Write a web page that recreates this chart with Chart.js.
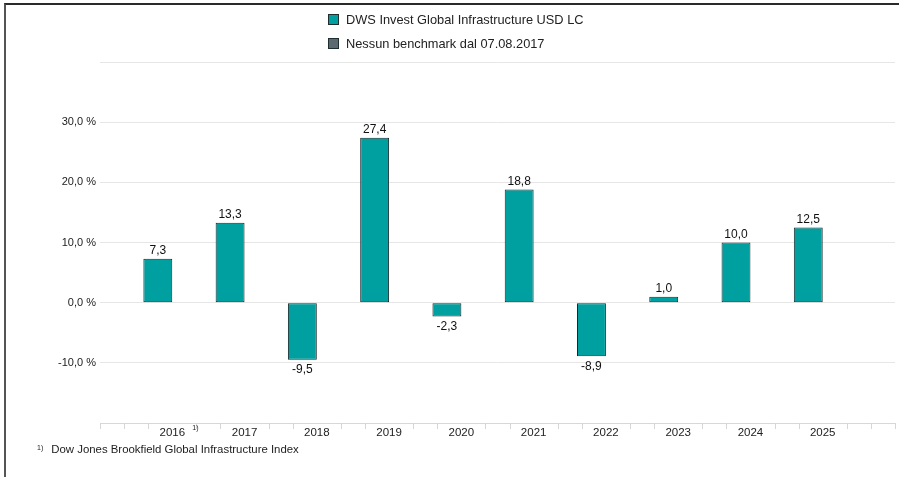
<!DOCTYPE html>
<html>
<head>
<meta charset="utf-8">
<script src="https://cdn.jsdelivr.net/npm/chart.js@4.4.1/dist/chart.umd.min.js"></script>
<style>
  body { margin: 0; background: #fff; font-family: "Liberation Sans", Arial, sans-serif; }
  #wrap { position: relative; width: 899px; height: 477px; overflow: hidden; }
  #frame { position: absolute; left: 4px; top: 3px; right: -2px; bottom: -2px; border-top: 2px solid #2a2a2a; border-left: 2px solid #555; }
  #legend { position: absolute; left: 328px; top: 12px; font-size: 12.8px; color: #222; }
  #legend .item { height: 24px; line-height: 16px; white-space: nowrap; }
  #legend .box { display: inline-block; width: 9px; height: 9px; margin-right: 7px; vertical-align: -1px; border: 1px solid #1f2f30; }
  #note { position: absolute; left: 37px; top: 443px; font-size: 11.4px; color: #222; }
  #note sup { font-size: 7px; vertical-align: 3px; margin-right: 8px; }
</style>
</head>
<body>
<div id="wrap">
  <canvas id="chart" width="899" height="477"></canvas>
  <div id="frame"></div>
  <div id="legend"></div>
  <div id="note"><sup>1)</sup>Dow Jones Brookfield Global Infrastructure Index</div>
</div>
<script>
// data (empty slots on each side, like the original)
var years = ["", "2016", "2017", "2018", "2019", "2020", "2021", "2022", "2023", "2024", "2025", ""];
var fundValues = [null, 7.3, 13.3, -9.5, 27.4, -2.3, 18.8, -8.9, 1.0, 10.0, 12.5, null];
var benchValues = [null, null, null, null, null, null, null, null, null, null, null, null];
var yTicks = [-10, 0, 10, 20, 30];

var fundName = "DWS Invest Global Infrastructure USD LC";
var benchName = "Nessun benchmark dal 07.08.2017";
var noteYear = "2016";

function fmt(v) {
    return v.toFixed(1).replace(".", ",");
}

/* value above / below every bar */
var valueLabels = {
    id: "valueLabels",
    afterDatasetsDraw: function(chart) {
        var ctx = chart.ctx;
        var meta = chart.getDatasetMeta(0);
        ctx.save();
        ctx.font = "12px 'Liberation Sans', Arial, sans-serif";
        ctx.fillStyle = "#111";
        ctx.textAlign = "center";
        ctx.textBaseline = "middle";
        meta.data.forEach(function(bar, i) {
            var v = fundValues[i];
            if (v === null) return;
            var y = v >= 0 ? bar.y - 8 : bar.y + 10;
            ctx.fillText(fmt(v), bar.x, y);
        });
        ctx.restore();
    }
};

/* little tick marks under the axis + footnote mark on 2016 */
var axisMarks = {
    id: "axisMarks",
    afterDraw: function(chart) {
        var x = chart.scales.x;
        var ctx = chart.ctx;
        var step = x.getPixelForTick(1) - x.getPixelForTick(0);
        var pos = [x.left, x.right];
        for (var i = 0; i < years.length; i++) {
            var p = x.getPixelForTick(i);
            pos.push(p - step / 3, p + step / 3);
        }
        ctx.save();
        ctx.strokeStyle = "#d6d6d6";
        ctx.lineWidth = 1;
        ctx.beginPath();
        pos.forEach(function(p) {
            if (p < x.left - 0.5 || p > x.right + 0.5) return;
            var px = Math.round(p) + 0.5;
            ctx.moveTo(px, x.top);
            ctx.lineTo(px, x.top + 6);
        });
        ctx.stroke();
        var idx = years.indexOf(noteYear);
        ctx.font = "7px 'Liberation Sans', Arial, sans-serif";
        ctx.fillStyle = "#222";
        ctx.textBaseline = "middle";
        ctx.fillText("1)", x.getPixelForTick(idx) + 20, x.top + 5);
        ctx.restore();
    }
};

var chart = new Chart(document.getElementById("chart"), {
    type: "bar",
    data: {
        labels: years,
        datasets: [{
            label: fundName,
            data: fundValues,
            backgroundColor: "#00a0a1",
            borderColor: "#17292a",
            borderWidth: 1,
            borderSkipped: false,
            categoryPercentage: 0.8,
            barPercentage: 1.0
        }, {
            label: benchName,
            data: benchValues,
            backgroundColor: "#5d6971",
            borderColor: "#1f2a30",
            borderWidth: 1,
            borderSkipped: false,
            categoryPercentage: 0.8,
            barPercentage: 1.0
        }]
    },
    options: {
        responsive: false,
        devicePixelRatio: 1,
        animation: false,
        layout: { padding: { top: 62, right: 4, left: 0, bottom: 0 } },
        plugins: {
            legend: { display: false },
            tooltip: { enabled: false }
        },
        scales: {
            x: {
                offset: false,
                grid: { display: false, drawTicks: false },
                border: { display: true, color: "#d8d8d8" },
                ticks: {
                    padding: 3,
                    maxRotation: 0,
                    autoSkip: false,
                    color: "#222",
                    font: { size: 11.5, family: "'Liberation Sans', Arial, sans-serif" }
                },
                afterFit: function(s) { s.height = 54; }
            },
            y: {
                min: -20,
                max: 40,
                grid: { color: "#e6e6e6", drawTicks: false },
                border: { display: false },
                ticks: {
                    stepSize: 10,
                    padding: 4,
                    color: "#222",
                    font: { size: 11, family: "'Liberation Sans', Arial, sans-serif" },
                    callback: function(v) {
                        return yTicks.indexOf(v) >= 0 ? fmt(v) + " %" : "";
                    }
                },
                afterFit: function(s) { s.width = 100; }
            }
        }
    },
    plugins: [valueLabels, axisMarks]
});

// legend block built from the chart's datasets
var legend = document.getElementById("legend");
chart.data.datasets.forEach(function(ds) {
    var item = document.createElement("div");
    item.className = "item";
    var box = document.createElement("span");
    box.className = "box";
    box.style.background = ds.backgroundColor;
    item.appendChild(box);
    item.appendChild(document.createTextNode(ds.label));
    legend.appendChild(item);
});
</script>
</body>
</html>
